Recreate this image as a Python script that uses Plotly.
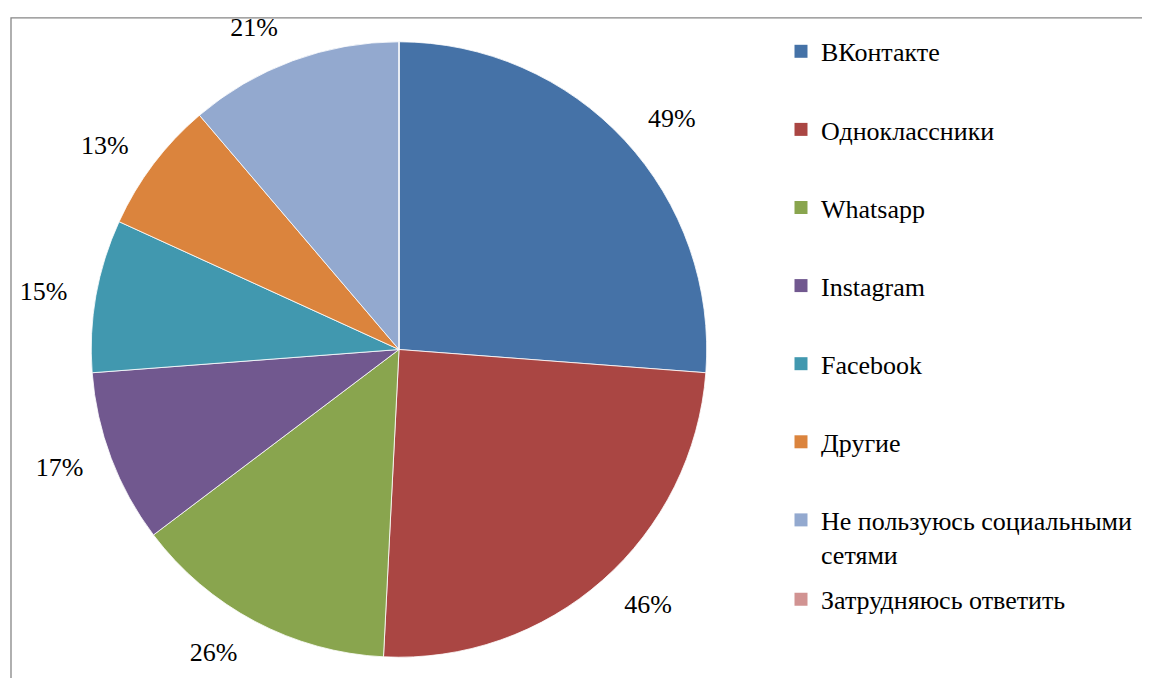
import plotly.graph_objects as go

labels = ["ВКонтакте", "Одноклассники", "Whatsapp", "Instagram", "Facebook",
          "Другие", "Не пользуюсь социальными<br>сетями", "Затрудняюсь ответить"]
values = [49, 46, 26, 17, 15, 13, 21, 0]
colors = ["#4572A7", "#AA4643", "#89A54E", "#71588F", "#4198AF",
          "#DB843D", "#93A9CF", "#D19392"]

FONT = "Liberation Serif"
FS = 26
W, H = 1150, 678

pie_text = [f"{v}%" if v > 0 else "" for v in values]

# pie centre / radius in figure pixels
CX, CY, R = 391, 339, 310
RL = R + 22  # radius used only to place the outside percentage labels


def dom(r):
    return dict(x=[(CX - r) / W, (CX + r) / W],
                y=[1 - (CY + r) / H, 1 - (CY - r) / H])


fig = go.Figure()
# transparent companion pie that carries the outside percentage labels
fig.add_trace(go.Pie(
    labels=labels, values=values, text=pie_text, textinfo="text",
    textposition="outside", sort=False, direction="clockwise", rotation=0,
    marker=dict(colors=["rgba(0,0,0,0)"] * len(values), line=dict(width=0)),
    outsidetextfont=dict(family=FONT, size=FS, color="black"),
    domain=dom(RL), showlegend=False, hoverinfo="skip",
))
# the visible pie
fig.add_trace(go.Pie(
    labels=labels, values=values, textinfo="none",
    sort=False, direction="clockwise", rotation=0,
    marker=dict(colors=colors, line=dict(color="white", width=0.8)),
    domain=dom(R), showlegend=False, hoverinfo="label+value",
))

for i, (lab, col) in enumerate(zip(labels, colors)):
    fig.add_trace(go.Scatter(
        x=[None], y=[None], mode="markers", name=lab,
        marker=dict(symbol="square", size=13, color=col, line=dict(width=0)),
        legendgroup=f"g{i}", legend="legend" if i < 7 else "legend2",
        showlegend=True, hoverinfo="skip",
    ))

legend_common = dict(
    font=dict(family=FONT, size=FS, color="black"),
    bgcolor="rgba(0,0,0,0)", borderwidth=0, valign="top",
    xanchor="left", yanchor="top", traceorder="grouped",
)

fig.update_layout(
    width=W, height=H,
    margin=dict(l=0, r=0, t=0, b=0),
    paper_bgcolor="white", plot_bgcolor="white",
    font=dict(family=FONT),
    xaxis=dict(visible=False), yaxis=dict(visible=False),
    legend=dict(x=773 / W, y=1 - 15 / H, tracegroupgap=41.3, **legend_common),
    legend2=dict(x=773 / W, y=1 - 567 / H, **legend_common),
    shapes=[dict(type="rect", xref="paper", yref="paper",
                 x0=3 / W, x1=1.05, y0=-0.05, y1=1 - 5 / H,
                 line=dict(color="#868686", width=1.3), layer="above")],
)

fig.write_html("out.html")
